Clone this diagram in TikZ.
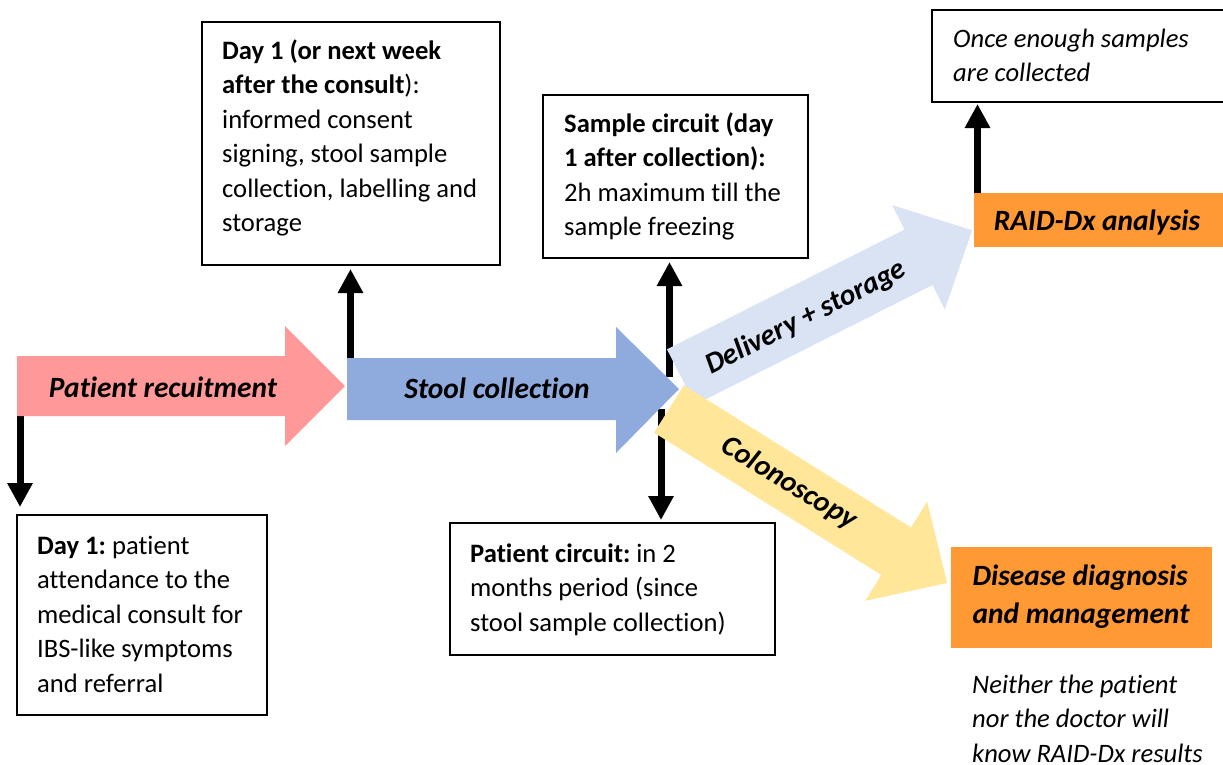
\documentclass[tikz,border=0pt]{standalone}
\usepackage{fontspec}
\setmainfont{Carlito}[Ligatures=CommonOff]
\frenchspacing
\usetikzlibrary{arrows.meta,calc}
\definecolor{pinkA}{HTML}{FF9999}
\definecolor{blueA}{HTML}{8FAADC}
\definecolor{lblueA}{HTML}{DAE3F3}
\definecolor{yellowA}{HTML}{FFE699}
\definecolor{orangeA}{HTML}{FF9933}
\begin{document}
\begin{tikzpicture}[x=1pt,y=-1pt,
  box/.style={draw=black,line width=1.5pt,anchor=north west,inner sep=0pt,outer sep=0pt},
  txt/.style={anchor=north west,align=left,inner sep=0pt,font=\fontsize{26.6}{34.5}\selectfont},
  itxt/.style={anchor=north west,align=left,inner sep=0pt,font=\fontsize{26.6}{34.5}\selectfont\itshape},
  lbl/.style={inner sep=0pt,font=\fontsize{29.4}{38}\selectfont\bfseries\itshape},
  blk/.style={line width=7pt,-{Triangle[width=24pt,length=24pt]}},
  orangebox/.style={fill=orangeA,anchor=north west,inner sep=0pt,outer sep=0pt}]
\useasboundingbox (0,0) rectangle (1223,764);
\clip (0,0) rectangle (1223,764);
\fill[white] (0,0) rectangle (1223,764);

% boxes
\node[box,minimum width=298pt,minimum height=243pt] (b1) at (202,22) {};
\node[box,minimum width=265pt,minimum height=163pt] (b2) at (543,95) {};
\node[box,minimum width=250pt,minimum height=200pt] (b3) at (17,515) {};
\node[box,minimum width=325pt,minimum height=132pt] (b4) at (450,523) {};
\node[box,minimum width=320pt,minimum height=92pt] (b5) at (932,10) {};

\node[txt] (t1) at (222,34.85) {\strut\textbf{Day 1 (or next week}\\\textbf{after the consult}):\\informed consent\\signing, stool sample\\collection, labelling and\\storage};
\node[txt] (t2) at (564,107.85) {\strut\textbf{Sample circuit (day}\\\textbf{1 after collection):}\\2h maximum till the\\sample freezing};
\node[txt] (t3) at (37,529.85) {\strut\textbf{Day 1:} patient\\attendance to the\\medical consult for\\IBS-like symptoms\\and referral};
\node[txt] (t4) at (470,537.85) {\strut\textbf{Patient circuit:} in 2\\months period (since\\stool sample collection)};
\node[itxt] (t5) at (953,22.85) {\strut Once enough samples\\are collected};
\node[itxt] (t6) at (972,668.85) {\strut Neither the patient\\nor the doctor will\\know RAID-Dx results};

% anchor coordinates on the big arrows
\coordinate (pd) at (20,410);
\coordinate (su) at (350.5,364);
\coordinate (du) at (669.5,377);
\coordinate (cd) at (661,409);

% black connectors
\draw[blk,shorten >=8pt] (pd) -- (pd |- b3.north);
\draw[blk,shorten >=4pt] (su) -- (su |- b1.south);
\draw[blk,shorten >=4pt] (du) -- (du |- b2.south);
\draw[blk,shorten >=3pt] (cd) -- (cd |- b4.north);

% big arrows
\fill[lblueA] (667.0,349.3) -- (904.5,229.6) -- (892.2,205.1) -- (972.1,230.3) -- (944.8,309.5) -- (932.5,285) -- (695,404.7) -- cycle;
\fill[yellowA] (683.9,385.3) -- (911.1,527.5) -- (927.2,501.6) -- (947.1,583.0) -- (865.2,600.8) -- (881.3,574.9) -- (654.1,432.7) -- cycle;
\fill[blueA] (347,358) -- (616,358) -- (616,327) -- (679,389) -- (616,453) -- (616,420) -- (347,420) -- cycle;
\fill[pinkA] (17,356) -- (285,356) -- (285,326) -- (345,386) -- (285,446) -- (285,416) -- (17,416) -- cycle;

\node[lbl] (lp) at (163,387) {Patient recuitment};
\node[lbl] (ls) at (497,388) {Stool collection};
\node[lbl,rotate=26.8] (ld) at (806,318) {Delivery + storage};
\node[lbl,rotate=-31.2] (lc) at (789,483) {Colonoscopy};

% orange boxes
\node[orangebox,minimum width=260pt,minimum height=54pt] (raid) at (974,193) {};
\node[lbl] (raidt) at (1097,222) {RAID-Dx analysis};
\node[orangebox,minimum width=261pt,minimum height=101pt] (dis) at (951,547) {};
\node[lbl,align=left] (dist) at (1081,597) {Disease diagnosis\\and management};

\coordinate (ru) at (977.5,193);
\draw[blk,shorten >=2pt] (ru) -- (ru |- b5.south);
\end{tikzpicture}
\end{document}
